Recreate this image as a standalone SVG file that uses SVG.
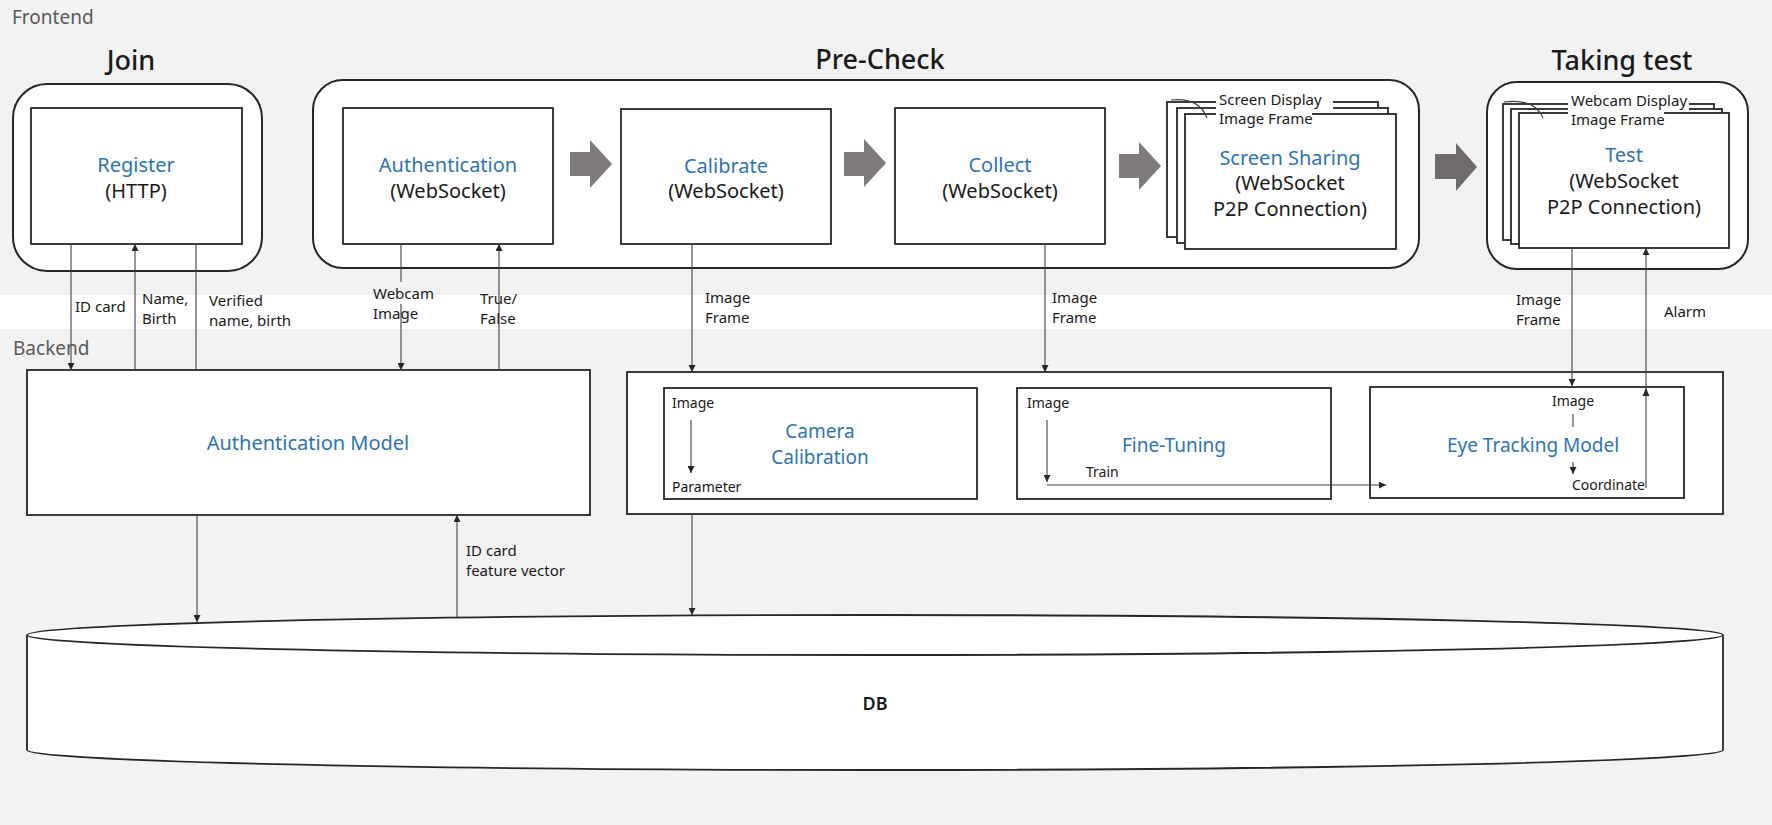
<svg xmlns="http://www.w3.org/2000/svg" width="1772" height="825" viewBox="0 0 1772 825">
<defs>
<style>
text{font-family:"Noto Sans","Liberation Sans",sans-serif;fill:#1a1a1a}
.band{font-size:19px;fill:#595959}
.title{font-size:27px;font-weight:500;text-anchor:middle}
.main{font-size:20px;text-anchor:middle}
.blue{fill:#2e74b5}
.sub{font-size:19px;text-anchor:middle}
.lbl{font-size:15px}
.sm{font-size:14px}
.grp{fill:#fff;stroke:#262626;stroke-width:2}
.box{fill:#fff;stroke:#262626;stroke-width:1.8}
.ln{stroke:#404040;stroke-width:1.1;fill:none}
.arr{marker-end:url(#ah)}
.big{fill:#7f7b7b}
</style>
<marker id="ah" viewBox="0 0 10 10" refX="10" refY="5" markerWidth="7" markerHeight="7" markerUnits="userSpaceOnUse" orient="auto">
<path d="M0,0 L10,5 L0,10 z" fill="#262626"/>
</marker>
</defs>
<rect x="0" y="0" width="1772" height="825" fill="#f2f2f2"/>
<rect x="0" y="295" width="1772" height="34" fill="#ffffff"/>
<text class="band" x="12" y="24">Frontend</text>
<text class="band" x="13" y="355">Backend</text>

<g id="join">
<text class="title" x="131" y="70">Join</text>
<rect class="grp" x="13" y="84" width="249" height="187" rx="34"/>
</g>
<g id="register">
<rect class="box" x="31" y="108" width="211" height="136"/>
<text class="main blue" x="136" y="172">Register</text>
<text class="main" x="136" y="198">(HTTP)</text>
</g>

<g id="precheck">
<text class="title" x="880" y="69">Pre-Check</text>
<rect class="grp" x="313" y="80" width="1106" height="188" rx="30"/>
</g>
<g id="authentication">
<rect class="box" x="343" y="108" width="210" height="136"/>
<text class="main blue" x="448" y="172">Authentication</text>
<text class="main" x="448" y="198">(WebSocket)</text>
</g>
<g id="calibrate">
<rect class="box" x="621" y="109" width="210" height="135"/>
<text class="main blue" x="726" y="173">Calibrate</text>
<text class="main" x="726" y="198">(WebSocket)</text>
</g>
<g id="collect">
<rect class="box" x="895" y="108" width="210" height="136"/>
<text class="main blue" x="1000" y="172">Collect</text>
<text class="main" x="1000" y="198">(WebSocket)</text>
</g>
<g id="screensharing">
<rect class="box" x="1167" y="102" width="211" height="135"/>
<rect class="box" x="1177" y="108" width="211" height="135"/>
<rect class="box" x="1185" y="114" width="211" height="135"/>
<rect x="1216" y="90" width="117" height="20" fill="#fff"/>
<rect x="1216" y="110" width="96" height="18" fill="#fff"/>
<path class="ln" d="M1171,100 Q1199,97 1207,118"/>
<text class="lbl" x="1219" y="105">Screen Display</text>
<text class="lbl" x="1219" y="124">Image Frame</text>
<text class="main blue" x="1290" y="165">Screen Sharing</text>
<text class="main" x="1290" y="190">(WebSocket</text>
<text class="main" x="1290" y="216">P2P Connection)</text>
</g>

<g id="takingtest">
<text class="title" x="1622" y="70">Taking test</text>
<rect class="grp" x="1487" y="82" width="261" height="187" rx="30"/>
</g>
<g id="test">
<rect class="box" x="1503" y="104" width="211" height="136"/>
<rect class="box" x="1511" y="109" width="211" height="135"/>
<rect class="box" x="1519" y="113" width="210" height="135"/>
<rect x="1568" y="91" width="121" height="20" fill="#fff"/>
<rect x="1568" y="111" width="96" height="18" fill="#fff"/>
<path class="ln" d="M1504,102 Q1535,98 1543,118"/>
<text class="lbl" x="1571" y="106">Webcam Display</text>
<text class="lbl" x="1571" y="125">Image Frame</text>
<text class="main blue" x="1624" y="162">Test</text>
<text class="main" x="1624" y="188">(WebSocket</text>
<text class="main" x="1624" y="214">P2P Connection)</text>
</g>

<g id="flow-arrows">
<path class="big" d="M570,152 H590 V140 L612,164 L590,188 V176 H570 Z"/>
<path class="big" d="M844,152 H864 V139 L886,163 L864,187 V176 H844 Z"/>
<path class="big" d="M1119,154 H1139 V142 L1161,166 L1139,190 V178 H1119 Z"/>
<path d="M1435,154 H1456 V143 L1477,167 L1456,191 V179 H1435 Z" fill="#6f6b6b"/>
</g>

<g id="authmodel">
<rect class="box" x="27" y="370" width="563" height="145"/>
<text class="main blue" x="308" y="450">Authentication Model</text>
</g>

<g id="backendgroup">
<rect class="box" x="627" y="372" width="1096" height="142"/>
</g>
<g id="cameracalibration">
<rect class="box" x="664" y="388" width="313" height="111"/>
<text class="sm" x="672" y="408">Image</text>
<text class="sm" x="672" y="492">Parameter</text>
<text class="sub blue" x="820" y="438">Camera</text>
<text class="sub blue" x="820" y="464">Calibration</text>
</g>
<g id="finetuning">
<rect class="box" x="1017" y="388" width="314" height="111"/>
<text class="sm" x="1027" y="408">Image</text>
<text class="sm" x="1086" y="477">Train</text>
<text class="sub blue" x="1174" y="452">Fine-Tuning</text>
</g>
<g id="eyetracking">
<rect class="box" x="1370" y="387" width="314" height="111"/>
<text class="sm" x="1573" y="406" text-anchor="middle">Image</text>
<text class="sm" x="1572" y="490">Coordinate</text>
<text class="sub blue" x="1533" y="452">Eye Tracking Model</text>
</g>

<g id="db">
<path d="M27,635 A848,20 0 0 1 1723,635 V750 A848,20 0 0 1 27,750 Z" fill="#fff" stroke="#262626" stroke-width="1.8"/>
<path d="M27,635 A848,20 0 0 0 1723,635" fill="none" stroke="#262626" stroke-width="1.8"/>
<text x="875" y="710" text-anchor="middle" style="font-size:18px;font-weight:600">DB</text>
</g>

<g id="connectors">
<line class="ln arr" x1="71" y1="244" x2="71" y2="370"/>
<line class="ln arr" x1="135" y1="370" x2="135" y2="244"/>
<line class="ln" x1="196" y1="244" x2="196" y2="370"/>
<line class="ln" x1="401" y1="244" x2="401" y2="282"/>
<line class="ln arr" x1="401" y1="304" x2="401" y2="370"/>
<line class="ln arr" x1="499" y1="370" x2="499" y2="244"/>
<line class="ln arr" x1="692" y1="244" x2="692" y2="372"/>
<line class="ln arr" x1="1045" y1="244" x2="1045" y2="372"/>
<line class="ln arr" x1="1572" y1="248" x2="1572" y2="386"/>
<line class="ln arr" x1="1646" y1="488" x2="1646" y2="248"/>
<path d="M1646,388 L1649.5,396 L1642.5,396 Z" fill="#262626"/>
<line class="ln arr" x1="691" y1="420" x2="691" y2="473"/>
<line class="ln arr" x1="1047" y1="420" x2="1047" y2="482"/>
<line class="ln arr" x1="1047" y1="485" x2="1386" y2="485"/>
<line class="ln" x1="1573" y1="414" x2="1573" y2="427"/>
<line class="ln arr" x1="1573" y1="462" x2="1573" y2="474"/>
<line class="ln arr" x1="197" y1="515" x2="197" y2="622"/>
<line class="ln arr" x1="457" y1="617" x2="457" y2="515"/>
<line class="ln arr" x1="692" y1="514" x2="692" y2="615"/>
</g>

<g id="labels">
<text class="lbl" x="75" y="312">ID card</text>
<text class="lbl" x="142" y="304">Name,</text>
<text class="lbl" x="142" y="324">Birth</text>
<text class="lbl" x="209" y="306">Verified</text>
<text class="lbl" x="209" y="326">name, birth</text>
<text class="lbl" x="373" y="299">Webcam</text>
<text class="lbl" x="373" y="319">Image</text>
<text class="lbl" x="480" y="304">True/</text>
<text class="lbl" x="480" y="324">False</text>
<text class="lbl" x="705" y="303">Image</text>
<text class="lbl" x="705" y="323">Frame</text>
<text class="lbl" x="1052" y="303">Image</text>
<text class="lbl" x="1052" y="323">Frame</text>
<text class="lbl" x="1516" y="305">Image</text>
<text class="lbl" x="1516" y="325">Frame</text>
<text class="lbl" x="1664" y="317">Alarm</text>
<text class="lbl" x="466" y="556">ID card</text>
<text class="lbl" x="466" y="576">feature vector</text>
</g>
</svg>
